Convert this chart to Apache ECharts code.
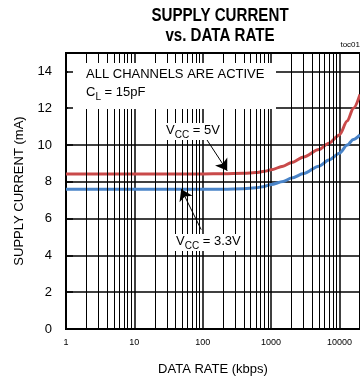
<!DOCTYPE html>
<html>
<head>
<meta charset="utf-8">
<script src="https://cdn.jsdelivr.net/npm/echarts@6/dist/echarts.min.js"></script>
<style>
  html, body { margin: 0; padding: 0; background: #fff; }
  #chart { width: 360px; height: 381px; }
</style>
</head>
<body>
<div id="chart"></div>
<script>
// data rate (kbps) and supply current (mA)
var rates = [1, 10, 100, 200, 400, 600, 800, 1000, 1500, 2000, 3000, 5000, 7000, 10000, 13000, 16000, 20000];
var current5V = [8.43, 8.43, 8.43, 8.44, 8.46, 8.5, 8.57, 8.65, 8.85, 9.05, 9.35, 9.75, 10.1, 10.55, 11.3, 12.0, 12.75];
var current33V = [7.6, 7.6, 7.6, 7.6, 7.62, 7.67, 7.75, 7.85, 8.02, 8.2, 8.45, 8.85, 9.18, 9.55, 10.0, 10.3, 10.55];

var xTickLabels = ['1', '10', '100', '1000', '10000'];
var minorRates = [2, 3, 4, 5, 6, 7, 8, 9,
                  20, 30, 40, 50, 60, 70, 80, 90,
                  200, 300, 400, 500, 600, 700, 800, 900,
                  2000, 3000, 4000, 5000, 6000, 7000, 8000, 9000];

// arrows from the labels to the curves
var arrow5V = [[102, 10.58], [228, 8.6]];
var arrow33V = [[95, 5.4], [48.5, 7.6]];

var FONT = "'Liberation Sans', Arial, sans-serif";
var chart = echarts.init(document.getElementById('chart'));

function pairs(xs, ys) {
  var out = [];
  for (var i = 0; i < xs.length; i++) out.push([xs[i], ys[i]]);
  return out;
}

var subRich = {
  n: { fontSize: 13, fontFamily: FONT, fill: '#000', verticalAlign: 'top', lineHeight: 15 },
  s: { fontSize: 10, fontFamily: FONT, fill: '#000', verticalAlign: 'top', lineHeight: 15, padding: [6, 0, 0, 0] }
};

chart.setOption({
  animation: false,
  textStyle: { fontFamily: FONT, color: '#000' },
  grid: {
    left: 66, right: -2, top: 53, bottom: 49,
    show: true, borderColor: '#000', borderWidth: 2, backgroundColor: 'transparent'
  },
  xAxis: {
    type: 'log', logBase: 10, min: 1, max: 20000,
    name: 'DATA RATE (kbps)', nameLocation: 'middle', nameGap: 34,
    nameTextStyle: { fontSize: 13, color: '#000', fontFamily: FONT },
    axisLine: { show: true, lineStyle: { color: '#000', width: 2 } },
    axisTick: { show: false },
    axisLabel: {
      fontSize: 9, color: '#000', margin: 9, showMaxLabel: false,
      formatter: function (v) { return xTickLabels.indexOf(String(v)) >= 0 ? String(v) : ''; }
    },
    splitLine: { show: true, lineStyle: { color: '#000', width: 1.5 } }
  },
  yAxis: [{
    type: 'value', min: 0, max: 15, interval: 2,
    name: 'SUPPLY CURRENT (mA)', nameLocation: 'middle', nameGap: 40,
    nameTextStyle: { fontSize: 13, color: '#000', fontFamily: FONT },
    axisLine: { show: true, lineStyle: { color: '#000', width: 2 } },
    axisTick: { show: false },
    axisLabel: { fontSize: 13, color: '#000', margin: 14, showMaxLabel: false },
    splitLine: { show: true, lineStyle: { color: '#000', width: 1.5 } }
  }, {
    type: 'value', min: 0, max: 15, interval: 2, position: 'left', z: 20,
    axisLine: { show: false },
    axisTick: { show: true, inside: true, length: 7, lineStyle: { color: '#000', width: 1.5 } },
    axisLabel: { show: false },
    splitLine: { show: false }
  }],
  series: [{
    // minor grid lines of the log axis
    type: 'line', data: [], z: 1, silent: true,
    markLine: {
      silent: true, symbol: 'none', label: { show: false },
      lineStyle: { color: '#000', width: 1, type: 'solid' },
      data: minorRates.map(function (r) { return { xAxis: r }; })
    }
  }, {
    name: 'VCC = 5V', type: 'line', z: 3,
    data: pairs(rates, current5V),
    smooth: 0.3, smoothMonotone: 'x', showSymbol: false,
    lineStyle: { color: '#c94a4a', width: 3 }
  }, {
    name: 'VCC = 3.3V', type: 'line', z: 3,
    data: pairs(rates, current33V),
    smooth: 0.3, smoothMonotone: 'x', showSymbol: false,
    lineStyle: { color: '#4a84c8', width: 3 },
    markLine: {
      silent: true, symbol: ['none', 'arrow'], symbolSize: 11,
      label: { show: false },
      lineStyle: { color: '#000', width: 1, type: 'solid' },
      itemStyle: { color: '#000' },
      data: [
        [{ coord: arrow5V[0] }, { coord: arrow5V[1] }],
        [{ coord: arrow33V[0] }, { coord: arrow33V[1] }]
      ]
    }
  }],
  graphic: [
    { type: 'text', x: 220, y: 7, z: 30, scaleX: 0.84,
      style: { text: 'SUPPLY CURRENT', textAlign: 'center', fill: '#000',
               font: "bold 18px 'Liberation Sans', Arial" } },
    { type: 'text', x: 220, y: 27, z: 30, scaleX: 0.84,
      style: { text: 'vs. DATA RATE', textAlign: 'center', fill: '#000',
               font: "bold 18px 'Liberation Sans', Arial" } },
    { type: 'text', right: 0, top: 41, z: 30,
      style: { text: 'toc01', fill: '#000', font: "8px " + FONT } },
    { type: 'rect', shape: { x: 68, y: 63, width: 208, height: 46 }, z: 10,
      style: { fill: '#fff' } },
    { type: 'text', x: 86, y: 68, z: 30,
      style: { text: 'ALL CHANNELS ARE ACTIVE', fill: '#000', font: "13px " + FONT } },
    { type: 'text', x: 86, y: 86, z: 30,
      style: { text: '{n|C}{s|L}{n| = 15pF}', rich: subRich } },
    { type: 'text', x: 165, y: 123, z: 30,
      style: { text: '{n|V}{s|CC}{n| = 5V}', backgroundColor: '#fff', padding: [1, 1, 1, 1], rich: subRich } },
    { type: 'text', x: 174, y: 234, z: 30,
      style: { text: '{n|V}{s|CC}{n| = 3.3V}', backgroundColor: '#fff', padding: [1, 2, 1, 2], rich: subRich } }
  ]
});
</script>
</body>
</html>
